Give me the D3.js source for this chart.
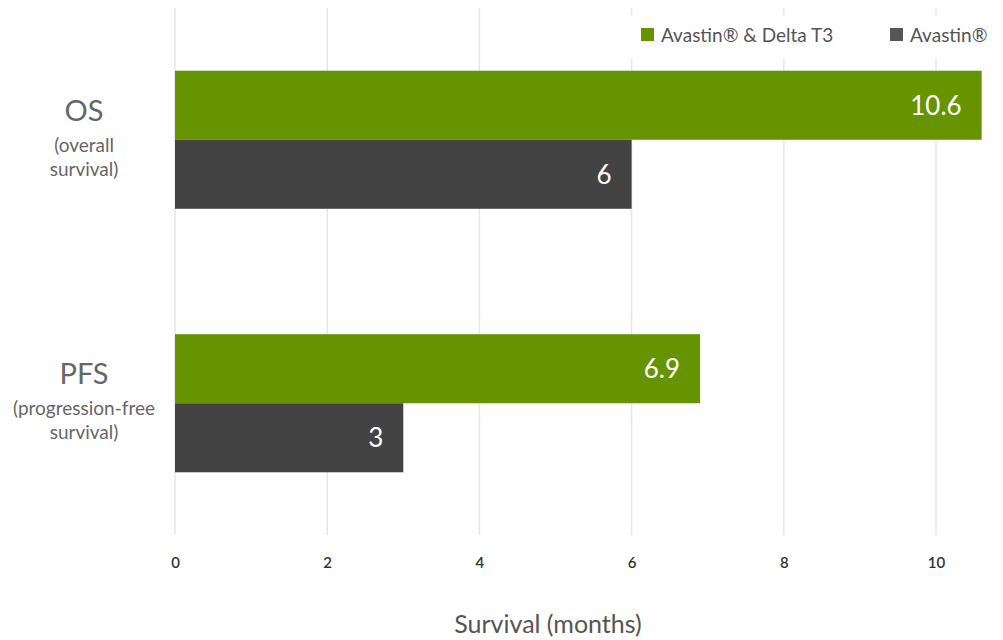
<!DOCTYPE html>
<html>
<head>
<meta charset="utf-8">
<script src="https://cdn.jsdelivr.net/npm/d3@7"></script>
<style>
  html, body { margin: 0; padding: 0; background: #fff; }
  svg { display: block; font-family: Lato, "Open Sans", sans-serif; }
</style>
</head>
<body>
<svg id="chart" width="1003" height="640"></svg>
<script>
// ---- data ----
const categories = ["OS", "PFS"];
const categorySubLabels = [["(overall", "survival)"], ["(progression-free", "survival)"]];
const seriesNames = ["Avastin® & Delta T3", "Avastin®"];
const seriesColors = ["#669400", "#434343"];
const legendColors = ["#669400", "#575757"];
const comboValues = [10.6, 6.9];   // Avastin® & Delta T3
const avastinValues = [6, 3];      // Avastin®
const tickValues = [0, 2, 4, 6, 8, 10];
const axisTitle = "Survival (months)";

// ---- layout ----
const svg = d3.select("#chart");
const W = 1003, H = 640;
const m = { left: 175, top: 8, bottom: 105 };
const x = d3.scaleLinear().domain([0, 10]).range([m.left, 936]);
const y = d3.scaleBand().domain(categories).range([m.top, H - m.bottom])
  .paddingInner(0.476).paddingOuter(0.238);
const ySub = d3.scaleBand().domain(seriesNames).range([0, y.bandwidth()]);

// gridlines
svg.append("g").selectAll("line").data(tickValues).join("line")
  .attr("x1", d => x(d)).attr("x2", d => x(d))
  .attr("y1", m.top).attr("y2", H - m.bottom)
  .attr("stroke", "#e6e6e6").attr("stroke-width", 1.5);

// tick labels via d3 axis
const axis = svg.append("g")
  .attr("transform", `translate(0,${H - m.bottom})`)
  .call(d3.axisBottom(x).tickValues(tickValues).tickSize(0).tickPadding(22));
axis.select(".domain").remove();
axis.selectAll("text").attr("font-size", 15).attr("font-weight", 600)
  .attr("fill", "#333").attr("font-family", "Lato, sans-serif");

// bars
const rows = categories.map((c, i) => ({ cat: c, vals: [comboValues[i], avastinValues[i]] }));
const groups = svg.append("g").selectAll("g").data(rows).join("g")
  .attr("transform", d => `translate(0,${y(d.cat)})`);
groups.selectAll("rect").data(d => d.vals.map((v, j) => ({ v, s: seriesNames[j], j })))
  .join("rect")
  .attr("x", x(0)).attr("y", d => ySub(d.s))
  .attr("width", d => x(d.v) - x(0)).attr("height", ySub.bandwidth())
  .attr("fill", d => seriesColors[d.j]);
groups.selectAll("text").data(d => d.vals.map((v, j) => ({ v, s: seriesNames[j] })))
  .join("text")
  .attr("x", d => Math.min(x(d.v), W) - 20)
  .attr("y", d => ySub(d.s) + ySub.bandwidth() / 2)
  .attr("dy", "0.36em").attr("text-anchor", "end")
  .attr("font-size", 26).attr("fill", "#fff")
  .text(d => d.v);

// category labels
const catG = svg.append("g").selectAll("g").data(categories).join("g")
  .attr("transform", c => `translate(84,${y(c) + y.bandwidth() / 2})`);
catG.append("text").attr("text-anchor", "middle").attr("y", -19)
  .attr("font-size", 29).attr("fill", "#666").text(c => c);
catG.each(function(c, i) {
  d3.select(this).selectAll("text.sub").data(categorySubLabels[i]).join("text")
    .attr("class", "sub").attr("text-anchor", "middle")
    .attr("y", (d, k) => 12 + k * 24)
    .attr("font-size", 19).attr("fill", "#666").text(d => d);
});

// legend (white background covers gridlines)
const lg = svg.append("g");
lg.append("rect").attr("x", 622).attr("y", 15).attr("width", W - 622).attr("height", 44).attr("fill", "#fff");
const legendX = [641, 890];
seriesNames.forEach((s, i) => {
  lg.append("rect").attr("x", legendX[i]).attr("y", 28).attr("width", 13).attr("height", 13)
    .attr("fill", legendColors[i]);
  lg.append("text").attr("x", legendX[i] + 20).attr("y", 42)
    .attr("font-size", 19).attr("fill", "#555").text(s);
});

// axis title
svg.append("text").attr("x", 548).attr("y", 633).attr("text-anchor", "middle")
  .attr("font-size", 25).attr("fill", "#555").text(axisTitle);
</script>
</body>
</html>
